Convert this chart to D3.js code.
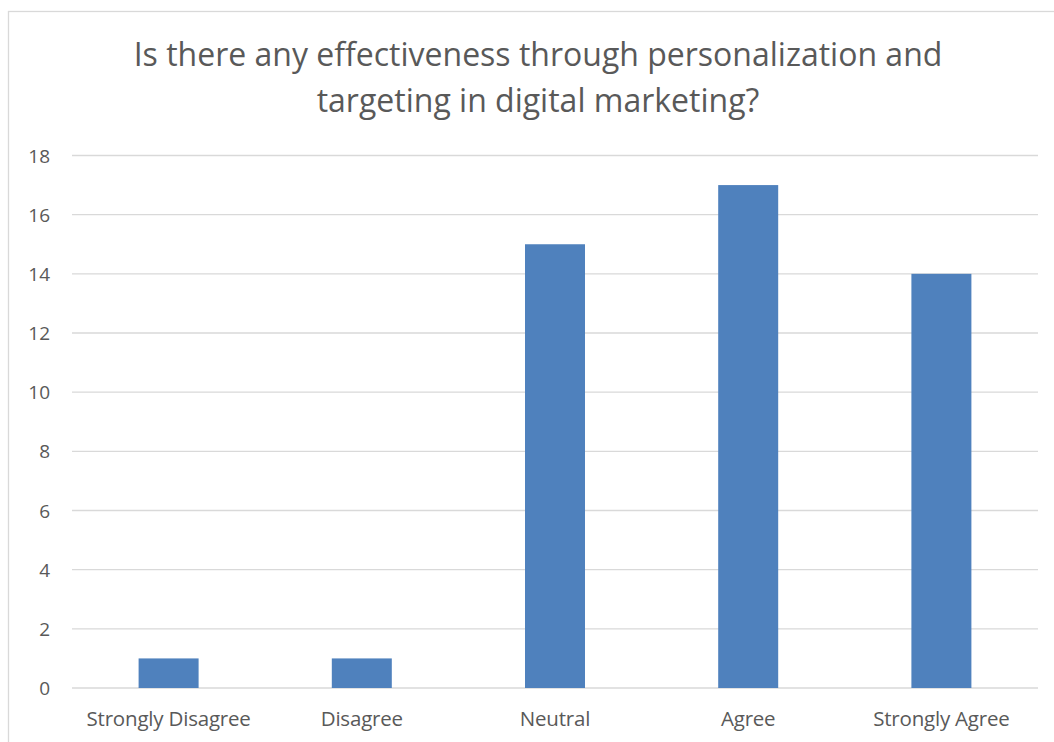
<!doctype html>
<html>
<head>
<meta charset="utf-8">
<title>Personalization and targeting</title>
<script src="https://d3js.org/d3.v7.min.js"></script>
<style>
  body { margin: 0; background: #fff; }
  text { font-family: "Open Sans", "Noto Sans", sans-serif; fill: #595959; }
</style>
</head>
<body>
<script>
const categories = ["Strongly Disagree", "Disagree", "Neutral", "Agree", "Strongly Agree"];
const counts = [1, 1, 15, 17, 14];
const yTicks = [0, 2, 4, 6, 8, 10, 12, 14, 16, 18];
const titleLines = ["Is there any effectiveness through personalization and", "targeting in digital marketing?"];

const w = 1054, h = 742;
const plotLeft = 72, plotRight = 1038, plotTop = 155.5, plotBottom = 688;

const svg = d3.select("body").append("svg")
  .attr("width", w)
  .attr("height", h);

// chart border (right/bottom fall outside the picture)
svg.append("rect")
  .attr("x", 8.5).attr("y", 11.5)
  .attr("width", 1060).attr("height", 760)
  .attr("fill", "none")
  .attr("stroke", "#d9d9d9")
  .attr("stroke-width", 1.3);

const x = d3.scaleBand()
  .domain(categories)
  .range([plotLeft, plotRight]);

const y = d3.scaleLinear()
  .domain([0, 18])
  .range([plotBottom, plotTop]);

// gridlines
svg.append("g")
  .selectAll("line")
  .data(yTicks)
  .enter().append("line")
  .attr("x1", plotLeft).attr("x2", plotRight)
  .attr("y1", d => y(d)).attr("y2", d => y(d))
  .attr("stroke", "#d9d9d9")
  .attr("stroke-width", 1.3);

// y labels
svg.append("g")
  .selectAll("text")
  .data(yTicks)
  .enter().append("text")
  .attr("x", 50)
  .attr("y", d => y(d) + 7)
  .attr("text-anchor", "end")
  .style("font-size", "19px")
  .text(d => d);

// bars
const barW = 60;
svg.append("g")
  .selectAll("rect")
  .data(counts)
  .enter().append("rect")
  .attr("x", (d, i) => x(categories[i]) + x.bandwidth() / 2 - barW / 2)
  .attr("y", d => y(d))
  .attr("width", barW)
  .attr("height", d => plotBottom - y(d))
  .attr("fill", "#4f81bd");

// category labels
svg.append("g")
  .selectAll("text")
  .data(categories)
  .enter().append("text")
  .attr("x", d => x(d) + x.bandwidth() / 2)
  .attr("y", 726)
  .attr("text-anchor", "middle")
  .style("font-size", "20.5px")
  .style("letter-spacing", "-0.2px")
  .text(d => d);

// title
svg.append("g")
  .selectAll("text")
  .data(titleLines)
  .enter().append("text")
  .attr("x", 538)
  .attr("y", (d, i) => 66 + i * 46)
  .attr("text-anchor", "middle")
  .style("font-size", "32px")
  .text(d => d);
</script>
</body>
</html>
